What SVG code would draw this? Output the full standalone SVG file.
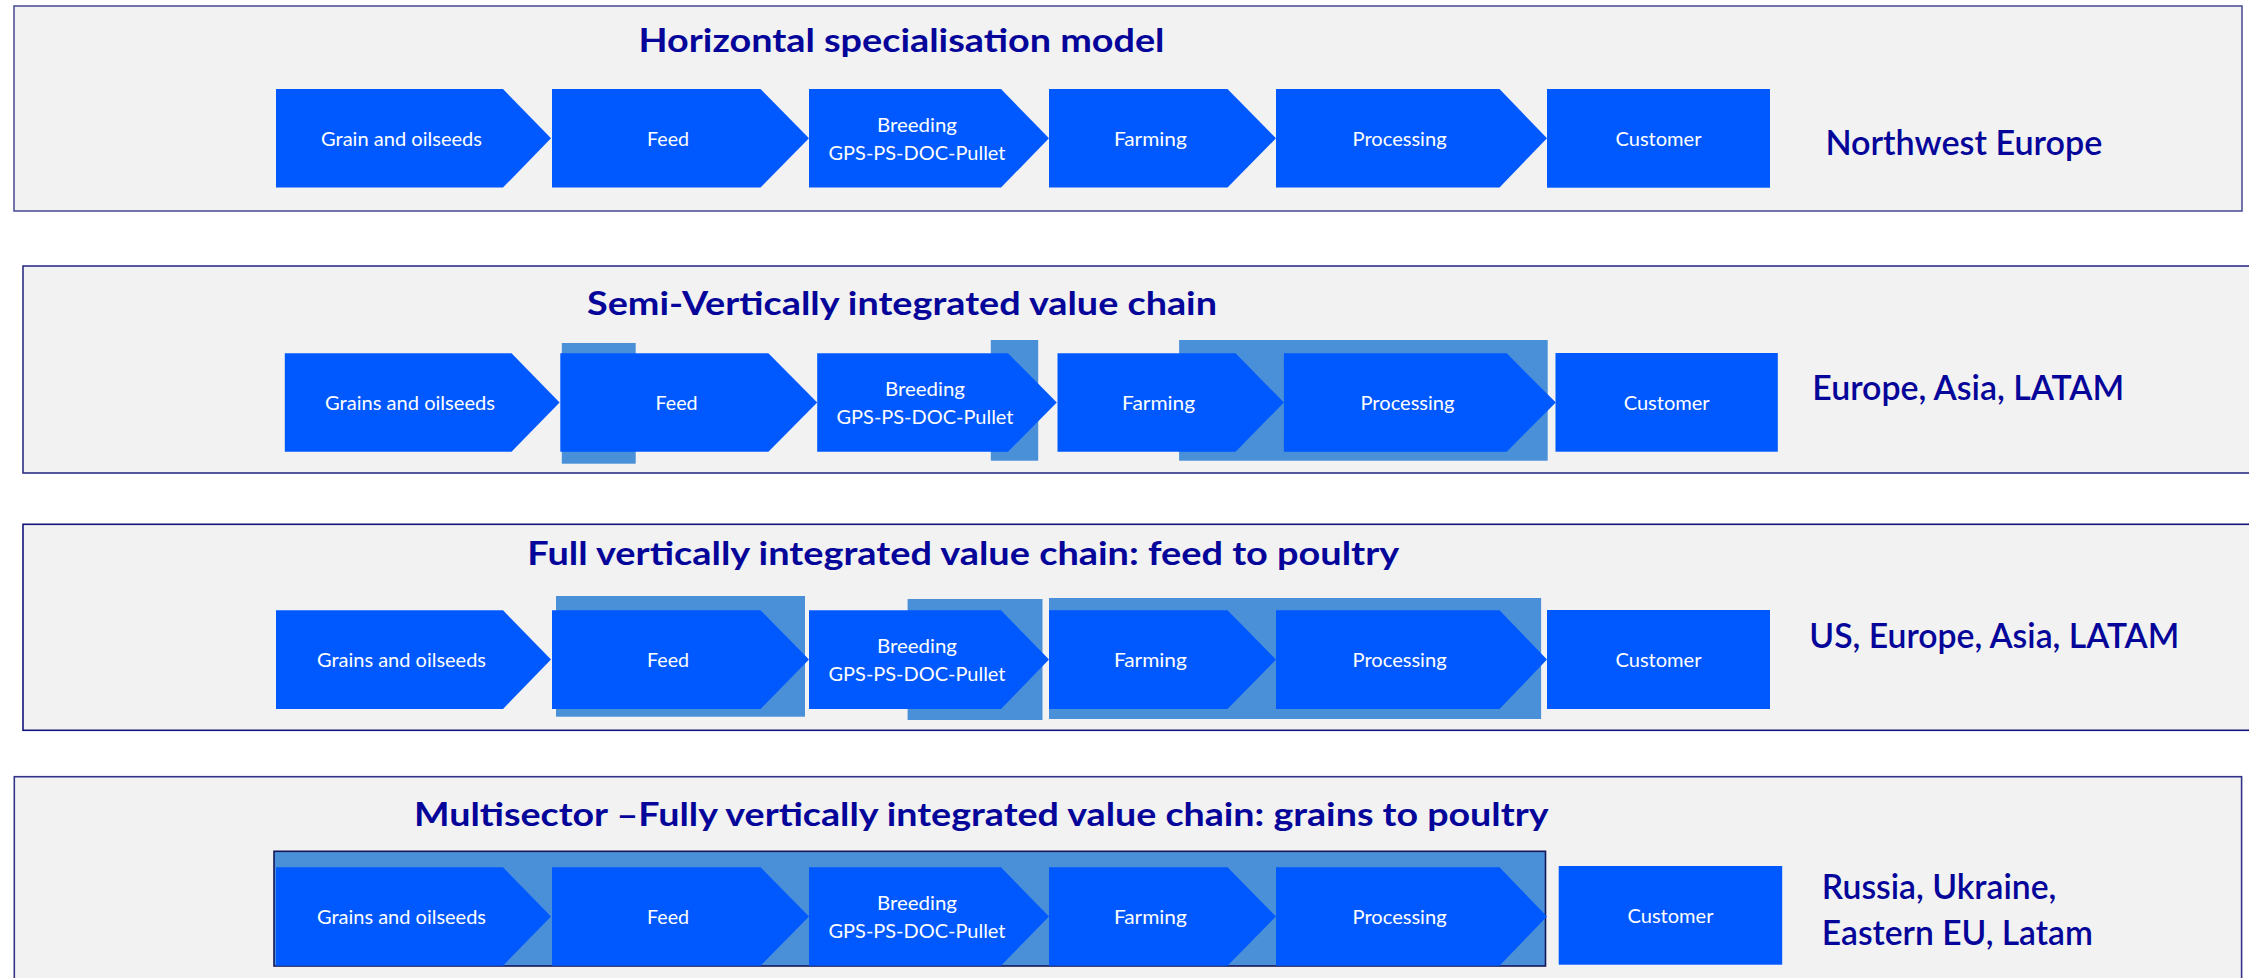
<svg xmlns="http://www.w3.org/2000/svg" width="2249" height="978" viewBox="0 0 2249 978">
<style>
.panel{fill:#F2F2F2;stroke-width:1.6}
.band{fill:#4A90D9}
.chev{fill:#0059FF}
.lbl{font-family:Lato,"Liberation Sans",sans-serif;font-size:19px;fill:#FFFFFF;text-anchor:middle}
.title{font-family:Lato,"Liberation Sans",sans-serif;font-size:33px;font-weight:700;fill:#05059A}
.region{font-family:Lato,"Liberation Sans",sans-serif;font-size:35px;font-weight:600;fill:#05059A}
</style>
<rect width="2249" height="978" fill="#FFFFFF"/>

<!-- Panel 1 -->
<g id="panel1">
<rect class="panel" x="14" y="6" width="2228" height="205" stroke="#50509A"/>
<text class="title" x="638.5" y="52.3" textLength="526" lengthAdjust="spacingAndGlyphs">Horizontal specialisation model</text>
<text class="region" x="1825.4" y="155" textLength="277" lengthAdjust="spacingAndGlyphs">Northwest Europe</text>
</g>
<g id="p1-grain"><path class="chev" d="M276,89H503L551,138.3L503,187.5H276Z"/><text class="lbl" x="401.5" y="146" textLength="161" lengthAdjust="spacingAndGlyphs">Grain and oilseeds</text></g>
<g id="p1-feed"><path class="chev" d="M552,89H760.5L809,138.3L760.5,187.5H552Z"/><text class="lbl" x="668" y="146" textLength="42" lengthAdjust="spacingAndGlyphs">Feed</text></g>
<g id="p1-breeding"><path class="chev" d="M809,89H1001L1049,138.3L1001,187.5H809Z"/><text class="lbl" x="917" y="131.7" textLength="80" lengthAdjust="spacingAndGlyphs">Breeding</text><text class="lbl" x="917" y="160" textLength="177" lengthAdjust="spacingAndGlyphs">GPS-PS-DOC-Pullet</text></g>
<g id="p1-farming"><path class="chev" d="M1049,89H1227.5L1276,138.3L1227.5,187.5H1049Z"/><text class="lbl" x="1150.4" y="146" textLength="73" lengthAdjust="spacingAndGlyphs">Farming</text></g>
<g id="p1-processing"><path class="chev" d="M1276,89H1499.5L1547,138.3L1499.5,187.5H1276Z"/><text class="lbl" x="1399.6" y="146" textLength="94" lengthAdjust="spacingAndGlyphs">Processing</text></g>
<g id="p1-customer"><rect class="chev" x="1547" y="89" width="223" height="98.7"/><text class="lbl" x="1658.5" y="146" textLength="86" lengthAdjust="spacingAndGlyphs">Customer</text></g>

<!-- Panel 2 -->
<g id="panel2">
<rect class="panel" x="23" y="266" width="2240" height="207" stroke="#2E2E85"/>
<text class="title" x="587" y="315" textLength="630" lengthAdjust="spacingAndGlyphs">Semi-Vertically integrated value chain</text>
<text class="region" x="1812.3" y="400" textLength="312" lengthAdjust="spacingAndGlyphs">Europe, Asia, LATAM</text>
<rect class="band" x="561.8" y="343" width="73.9" height="120.7"/>
<rect class="band" x="990.8" y="340" width="47.4" height="120.7"/>
<rect class="band" x="1179.1" y="340" width="368.6" height="120.7"/>
</g>
<g id="p2-grain"><path class="chev" d="M284.8,353.3H511.5L559.6,402.5L511.5,451.7H284.8Z"/><text class="lbl" x="410" y="410.3" textLength="170" lengthAdjust="spacingAndGlyphs">Grains and oilseeds</text></g>
<g id="p2-feed"><path class="chev" d="M560.3,353.3H768.4L817.2,402.5L768.4,451.7H560.3Z"/><text class="lbl" x="676.5" y="410.3" textLength="42" lengthAdjust="spacingAndGlyphs">Feed</text></g>
<g id="p2-breeding"><path class="chev" d="M817.2,353.3H1008L1056.8,402.5L1008,451.7H817.2Z"/><text class="lbl" x="925" y="396" textLength="80" lengthAdjust="spacingAndGlyphs">Breeding</text><text class="lbl" x="925" y="424.3" textLength="177" lengthAdjust="spacingAndGlyphs">GPS-PS-DOC-Pullet</text></g>
<g id="p2-farming"><path class="chev" d="M1057.5,353.3H1235.6L1283.9,402.5L1235.6,451.7H1057.5Z"/><text class="lbl" x="1158.6" y="410.3" textLength="73" lengthAdjust="spacingAndGlyphs">Farming</text></g>
<g id="p2-processing"><path class="chev" d="M1283.9,353.3H1506.7L1555.8,402.5L1506.7,451.7H1283.9Z"/><text class="lbl" x="1407.5" y="410.3" textLength="94" lengthAdjust="spacingAndGlyphs">Processing</text></g>
<g id="p2-customer"><rect class="chev" x="1555.5" y="353" width="222.3" height="98.7"/><text class="lbl" x="1666.7" y="410.3" textLength="86" lengthAdjust="spacingAndGlyphs">Customer</text></g>

<!-- Panel 3 -->
<g id="panel3">
<rect class="panel" x="23" y="524.3" width="2240" height="206" stroke="#14147A"/>
<text class="title" x="527.3" y="565" textLength="872" lengthAdjust="spacingAndGlyphs">Full vertically integrated value chain: feed to poultry</text>
<text class="region" x="1809.3" y="648.3" textLength="370" lengthAdjust="spacingAndGlyphs">US, Europe, Asia, LATAM</text>
<rect class="band" x="556" y="596" width="249" height="120.7"/>
<rect class="band" x="907.6" y="599" width="134.9" height="121"/>
<rect class="band" x="1049" y="598" width="492.1" height="121"/>
</g>
<g id="p3-grain"><path class="chev" d="M276,610.3H503L551,659.6L503,709H276Z"/><text class="lbl" x="401.5" y="667.3" textLength="169" lengthAdjust="spacingAndGlyphs">Grains and oilseeds</text></g>
<g id="p3-feed"><path class="chev" d="M552,610.3H760.5L809,659.6L760.5,709H552Z"/><text class="lbl" x="668" y="667.3" textLength="42" lengthAdjust="spacingAndGlyphs">Feed</text></g>
<g id="p3-breeding"><path class="chev" d="M809,610.3H1001L1049,659.6L1001,709H809Z"/><text class="lbl" x="917" y="653" textLength="80" lengthAdjust="spacingAndGlyphs">Breeding</text><text class="lbl" x="917" y="681.3" textLength="177" lengthAdjust="spacingAndGlyphs">GPS-PS-DOC-Pullet</text></g>
<g id="p3-farming"><path class="chev" d="M1049,610.3H1227.5L1276,659.6L1227.5,709H1049Z"/><text class="lbl" x="1150.4" y="667.3" textLength="73" lengthAdjust="spacingAndGlyphs">Farming</text></g>
<g id="p3-processing"><path class="chev" d="M1276,610.3H1499.5L1547,659.6L1499.5,709H1276Z"/><text class="lbl" x="1399.6" y="667.3" textLength="94" lengthAdjust="spacingAndGlyphs">Processing</text></g>
<g id="p3-customer"><rect class="chev" x="1547" y="610" width="223" height="99"/><text class="lbl" x="1658.5" y="667.3" textLength="86" lengthAdjust="spacingAndGlyphs">Customer</text></g>

<!-- Panel 4 -->
<g id="panel4">
<rect class="panel" x="14.3" y="776.7" width="2227.3" height="230" stroke="#33338A"/>
<text class="title" x="414" y="825.7" textLength="1134.5" lengthAdjust="spacingAndGlyphs">Multisector –Fully vertically integrated value chain: grains to poultry</text>
<text class="region" x="1821.8" y="899" textLength="234.5" lengthAdjust="spacingAndGlyphs">Russia, Ukraine,</text>
<text class="region" x="1821.8" y="945" textLength="271" lengthAdjust="spacingAndGlyphs">Eastern EU, Latam</text>
<rect class="band" x="274" y="851.3" width="1271.5" height="114.7" stroke="#15155A" stroke-width="1.6"/>
</g>
<g id="p4-grain"><path class="chev" d="M276,867.3H503L551,916.5L503,965.7H276Z"/><text class="lbl" x="401.5" y="924.3" textLength="169" lengthAdjust="spacingAndGlyphs">Grains and oilseeds</text></g>
<g id="p4-feed"><path class="chev" d="M552,867.3H760.5L809,916.5L760.5,965.7H552Z"/><text class="lbl" x="668" y="924.3" textLength="42" lengthAdjust="spacingAndGlyphs">Feed</text></g>
<g id="p4-breeding"><path class="chev" d="M809,867.3H1001L1049,916.5L1001,965.7H809Z"/><text class="lbl" x="917" y="910" textLength="80" lengthAdjust="spacingAndGlyphs">Breeding</text><text class="lbl" x="917" y="938.3" textLength="177" lengthAdjust="spacingAndGlyphs">GPS-PS-DOC-Pullet</text></g>
<g id="p4-farming"><path class="chev" d="M1049,867.3H1227.5L1276,916.5L1227.5,965.7H1049Z"/><text class="lbl" x="1150.4" y="924.3" textLength="73" lengthAdjust="spacingAndGlyphs">Farming</text></g>
<g id="p4-processing"><path class="chev" d="M1276,867.3H1499.5L1547,916.5L1499.5,965.7H1276Z"/><text class="lbl" x="1399.6" y="924.3" textLength="94" lengthAdjust="spacingAndGlyphs">Processing</text></g>
<g id="p4-customer"><rect class="chev" x="1558.7" y="866" width="223.5" height="98.7"/><text class="lbl" x="1670.5" y="923.3" textLength="86" lengthAdjust="spacingAndGlyphs">Customer</text></g>

<g id="connectors"/>
</svg>
